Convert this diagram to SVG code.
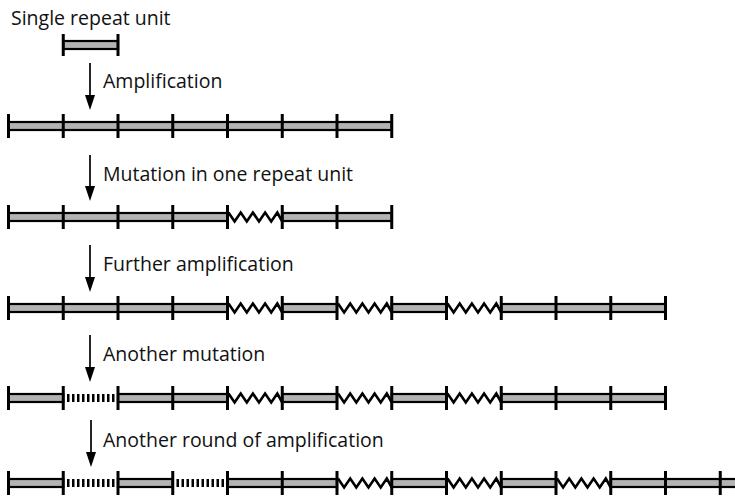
<svg xmlns="http://www.w3.org/2000/svg" xmlns:xlink="http://www.w3.org/1999/xlink" width="735" height="498" viewBox="0 0 735 498">
<style>
.bar{fill:#b3b3b3;stroke:#000;stroke-width:2.2}
.tick{stroke:#000;stroke-width:3}
.zz{fill:none;stroke:#000;stroke-width:2.6;stroke-linejoin:miter}
.dash{stroke:#000;stroke-width:8;stroke-dasharray:2.5 2.5}
.arr{stroke:#000;stroke-width:1.7;marker-end:url(#ah)}
.lbl{font-family:"Open Sans","Noto Sans",sans-serif;font-size:19.5px;fill:#111}
</style>
<defs>
<marker id="ah" markerUnits="userSpaceOnUse" markerWidth="15" markerHeight="10" viewBox="0 0 15 10" refX="7" refY="5" orient="auto"><path d="M0,0 L15,5 L0,10 z" fill="#000"/></marker>
<path id="zig" class="zz" d="M1,-4.5 L7.1,4.5 L13.2,-4.5 L19.3,4.5 L25.4,-4.5 L31.5,4.5 L37.6,-4.5 L43.7,4.5 L49.8,-4.5 L54.75,4.5"/>
</defs>
<rect width="735" height="498" fill="#fff"/>

<g id="row0">
<text class="lbl" x="11" y="25">Single repeat unit</text>
<rect class="bar" x="63.25" y="41" width="54.75" height="8"/>
<line class="tick" x1="63.25" y1="34" x2="63.25" y2="56"/>
<line class="tick" x1="118" y1="34" x2="118" y2="56"/>
</g>

<g id="row1">
<rect class="bar" x="8.5" y="122" width="383.25" height="8"/>
<g class="tick">
<line x1="8.5" y1="114" x2="8.5" y2="138"/><line x1="63.25" y1="114" x2="63.25" y2="138"/><line x1="118" y1="114" x2="118" y2="138"/><line x1="172.75" y1="114" x2="172.75" y2="138"/><line x1="227.5" y1="114" x2="227.5" y2="138"/><line x1="282.25" y1="114" x2="282.25" y2="138"/><line x1="337" y1="114" x2="337" y2="138"/><line x1="391.75" y1="114" x2="391.75" y2="138"/>
</g>
</g>

<g id="row2">
<rect class="bar" x="8.5" y="213" width="219" height="8"/>
<rect class="bar" x="282.25" y="213" width="109.5" height="8"/>
<use xlink:href="#zig" x="227.5" y="217"/>
<g class="tick">
<line x1="8.5" y1="205" x2="8.5" y2="229"/><line x1="63.25" y1="205" x2="63.25" y2="229"/><line x1="118" y1="205" x2="118" y2="229"/><line x1="172.75" y1="205" x2="172.75" y2="229"/><line x1="227.5" y1="205" x2="227.5" y2="229"/><line x1="282.25" y1="205" x2="282.25" y2="229"/><line x1="337" y1="205" x2="337" y2="229"/><line x1="391.75" y1="205" x2="391.75" y2="229"/>
</g>
</g>

<g id="row3">
<rect class="bar" x="8.5" y="304" width="219" height="8"/>
<rect class="bar" x="282.25" y="304" width="54.75" height="8"/>
<rect class="bar" x="391.75" y="304" width="54.75" height="8"/>
<rect class="bar" x="501.25" y="304" width="164.25" height="8"/>
<use xlink:href="#zig" x="227.5" y="308"/>
<use xlink:href="#zig" x="337" y="308"/>
<use xlink:href="#zig" x="446.5" y="308"/>
<g class="tick">
<line x1="8.5" y1="296" x2="8.5" y2="320"/><line x1="63.25" y1="296" x2="63.25" y2="320"/><line x1="118" y1="296" x2="118" y2="320"/><line x1="172.75" y1="296" x2="172.75" y2="320"/><line x1="227.5" y1="296" x2="227.5" y2="320"/><line x1="282.25" y1="296" x2="282.25" y2="320"/><line x1="337" y1="296" x2="337" y2="320"/><line x1="391.75" y1="296" x2="391.75" y2="320"/><line x1="446.5" y1="296" x2="446.5" y2="320"/><line x1="501.25" y1="296" x2="501.25" y2="320"/><line x1="556" y1="296" x2="556" y2="320"/><line x1="610.75" y1="296" x2="610.75" y2="320"/><line x1="665.5" y1="296" x2="665.5" y2="320"/>
</g>
</g>

<g id="row4">
<rect class="bar" x="8.5" y="394" width="54.75" height="8"/>
<line class="dash" x1="67" y1="398" x2="115" y2="398"/>
<rect class="bar" x="118" y="394" width="109.5" height="8"/>
<rect class="bar" x="282.25" y="394" width="54.75" height="8"/>
<rect class="bar" x="391.75" y="394" width="54.75" height="8"/>
<rect class="bar" x="501.25" y="394" width="164.25" height="8"/>
<use xlink:href="#zig" x="227.5" y="398"/>
<use xlink:href="#zig" x="337" y="398"/>
<use xlink:href="#zig" x="446.5" y="398"/>
<g class="tick">
<line x1="8.5" y1="386" x2="8.5" y2="410"/><line x1="63.25" y1="386" x2="63.25" y2="410"/><line x1="118" y1="386" x2="118" y2="410"/><line x1="172.75" y1="386" x2="172.75" y2="410"/><line x1="227.5" y1="386" x2="227.5" y2="410"/><line x1="282.25" y1="386" x2="282.25" y2="410"/><line x1="337" y1="386" x2="337" y2="410"/><line x1="391.75" y1="386" x2="391.75" y2="410"/><line x1="446.5" y1="386" x2="446.5" y2="410"/><line x1="501.25" y1="386" x2="501.25" y2="410"/><line x1="556" y1="386" x2="556" y2="410"/><line x1="610.75" y1="386" x2="610.75" y2="410"/><line x1="665.5" y1="386" x2="665.5" y2="410"/>
</g>
</g>

<g id="row5">
<rect class="bar" x="8.5" y="479" width="54.75" height="8"/>
<line class="dash" x1="67" y1="483" x2="115" y2="483"/>
<rect class="bar" x="118" y="479" width="54.75" height="8"/>
<line class="dash" x1="176.5" y1="483" x2="224.5" y2="483"/>
<rect class="bar" x="227.5" y="479" width="109.5" height="8"/>
<rect class="bar" x="391.75" y="479" width="54.75" height="8"/>
<rect class="bar" x="501.25" y="479" width="54.75" height="8"/>
<rect class="bar" x="610.75" y="479" width="130" height="8"/>
<use xlink:href="#zig" x="337" y="483"/>
<use xlink:href="#zig" x="446.5" y="483"/>
<use xlink:href="#zig" x="556" y="483"/>
<g class="tick">
<line x1="8.5" y1="471" x2="8.5" y2="495"/><line x1="63.25" y1="471" x2="63.25" y2="495"/><line x1="118" y1="471" x2="118" y2="495"/><line x1="172.75" y1="471" x2="172.75" y2="495"/><line x1="227.5" y1="471" x2="227.5" y2="495"/><line x1="282.25" y1="471" x2="282.25" y2="495"/><line x1="337" y1="471" x2="337" y2="495"/><line x1="391.75" y1="471" x2="391.75" y2="495"/><line x1="446.5" y1="471" x2="446.5" y2="495"/><line x1="501.25" y1="471" x2="501.25" y2="495"/><line x1="556" y1="471" x2="556" y2="495"/><line x1="610.75" y1="471" x2="610.75" y2="495"/><line x1="665.5" y1="471" x2="665.5" y2="495"/><line x1="720.25" y1="471" x2="720.25" y2="495"/>
</g>
</g>

<g id="connectors">
<line class="arr" x1="90" y1="63" x2="90" y2="102"/>
<text class="lbl" x="103" y="88">Amplification</text>
<line class="arr" x1="90" y1="155" x2="90" y2="193"/>
<text class="lbl" x="103" y="181">Mutation in one repeat unit</text>
<line class="arr" x1="90" y1="245" x2="90" y2="284"/>
<text class="lbl" x="103" y="271">Further amplification</text>
<line class="arr" x1="90" y1="335" x2="90" y2="374"/>
<text class="lbl" x="103" y="361">Another mutation</text>
<line class="arr" x1="91" y1="420" x2="91" y2="459"/>
<text class="lbl" x="103" y="447">Another round of amplification</text>
</g>
</svg>
